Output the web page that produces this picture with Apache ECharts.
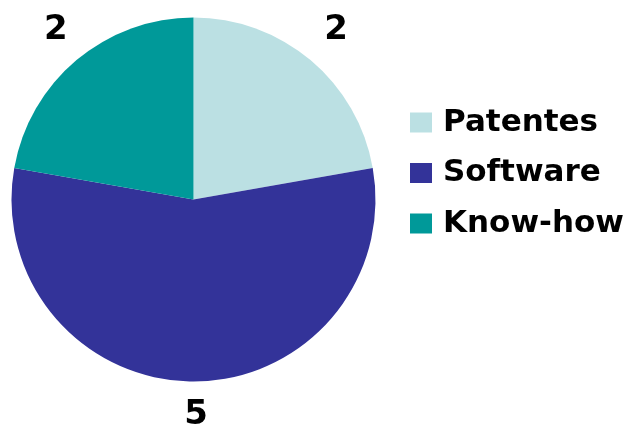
<!DOCTYPE html>
<html>
<head>
<meta charset="utf-8">
<script src="https://cdn.jsdelivr.net/npm/echarts@6/dist/echarts.min.js"></script>
<style>
  html, body { margin: 0; padding: 0; background: #fff; }
  #chart { width: 631px; height: 433px; }
</style>
</head>
<body>
<div id="chart"></div>
<script>
const categories = ['Patentes', 'Software', 'Know-how']
const values = [2, 5, 2]
const colors = ['#bbe0e3', '#333399', '#009999']

const chart = echarts.init(document.getElementById('chart'))

const pieData = categories.map((name, i) => ({
  name,
  value: values[i],
  itemStyle: { color: colors[i] }
}))

chart.setOption({
  animation: false,
  legend: {
    orient: 'vertical',
    left: 410,
    top: 107,
    padding: 0,
    itemWidth: 22,
    itemHeight: 20,
    itemGap: 19.5,
    icon: 'rect',
    data: categories,
    textStyle: {
      fontFamily: 'DejaVu Sans, sans-serif',
      fontWeight: 'bold',
      fontSize: 31,
      color: '#000',
      padding: [0, 0, 0, 6]
    }
  },
  series: [
    {
      type: 'pie',
      center: [193.5, 199.5],
      radius: [0, 182],
      startAngle: 90,
      clockwise: true,
      silent: true,
      label: { show: false },
      labelLine: { show: false },
      data: pieData
    },
    {
      // transparent ring carrying the value labels just outside the pie
      type: 'pie',
      center: [196, 197],
      radius: [198, 232],
      startAngle: 90,
      clockwise: true,
      silent: true,
      itemStyle: { color: 'rgba(0,0,0,0)' },
      label: {
        show: true,
        position: 'inside',
        formatter: '{c}',
        fontFamily: 'DejaVu Sans, sans-serif',
        fontWeight: 'bold',
        fontSize: 34,
        color: '#000'
      },
      labelLine: { show: false },
      data: categories.map((name, i) => ({ name, value: values[i] }))
    }
  ]
})
</script>
</body>
</html>
